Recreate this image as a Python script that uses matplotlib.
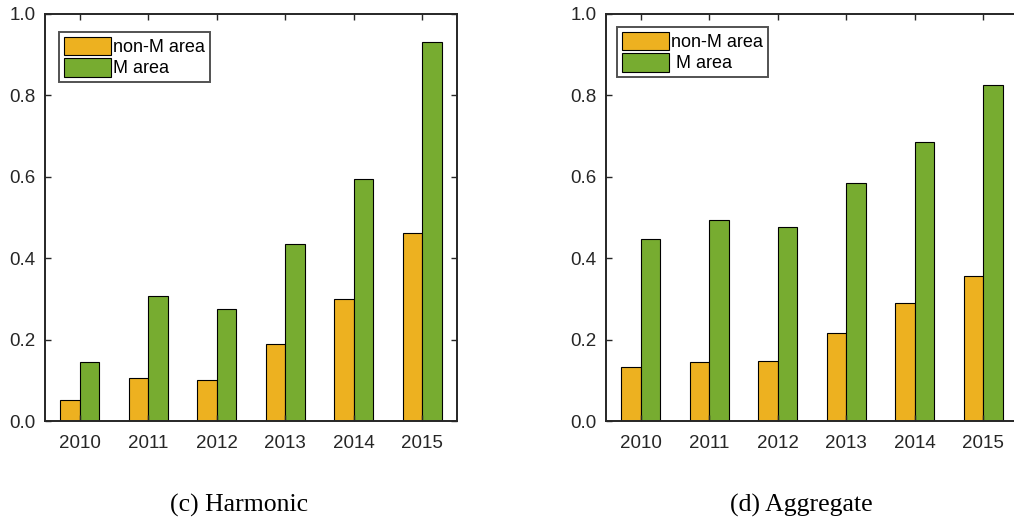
import numpy as np
import matplotlib.pyplot as plt

# values
years = ['2010', '2011', '2012', '2013', '2014', '2015']
harmonic_non_m = [0.052, 0.106, 0.100, 0.190, 0.300, 0.461]
harmonic_m = [0.145, 0.306, 0.274, 0.434, 0.595, 0.930]
aggregate_non_m = [0.133, 0.144, 0.148, 0.216, 0.291, 0.356]
aggregate_m = [0.446, 0.494, 0.476, 0.584, 0.685, 0.826]

orange = '#EDB120'
green = '#77AC30'
dark = '#262626'

plt.rcParams['font.family'] = ['Liberation Sans', 'DejaVu Sans']

fig = plt.figure(figsize=(10.14, 5.20), dpi=100)
W, H = 1014, 520


def panel(left_px, width_px, non_m, m, labels, caption, cap_x, leg_xy):
    # axes box in pixels: top 14, bottom 421
    ax = fig.add_axes([left_px / W, (H - 421) / H, width_px / W, 407 / H])
    x = np.arange(1, len(years) + 1)
    w = 0.285
    ax.bar(x - w / 2, non_m, w, color=orange, edgecolor='black', linewidth=0.8, label=labels[0])
    ax.bar(x + w / 2, m, w, color=green, edgecolor='black', linewidth=0.8, label=labels[1])
    ax.set_xlim(0.49, 0.49 + 6.02 * width_px / 412)
    ax.set_ylim(0, 1.0)
    ax.set_xticks(x)
    ax.set_xticklabels(years)
    ax.set_yticks([0, 0.2, 0.4, 0.6, 0.8, 1.0])
    ax.set_yticklabels(['0.0', '0.2', '0.4', '0.6', '0.8', '1.0'])
    ax.tick_params(direction='in', length=4, width=1, colors=dark, labelsize=13.5,
                   top=True, right=True)
    ax.tick_params(axis='x', pad=10)
    ax.tick_params(axis='y', pad=7)
    for s in ax.spines.values():
        s.set_color(dark)
        s.set_linewidth(1.4)
    # legend anchored at its top-left corner, in pixel coords
    lx = (leg_xy[0] - left_px) / width_px
    ly = (421 - leg_xy[1]) / 407
    leg = ax.legend(loc='upper left', bbox_to_anchor=(lx, ly), fontsize=13,
                    frameon=True, fancybox=False, handlelength=2.65, handleheight=1.2,
                    handletextpad=0.1, borderpad=0.25, labelspacing=0.12, borderaxespad=0.0)
    leg.get_frame().set_edgecolor(dark)
    leg.get_frame().set_linewidth(1.4)
    fig.text(cap_x / W, 1 - 505 / H, caption, ha='center', va='center',
             family=['Liberation Serif', 'DejaVu Serif'], fontsize=18.5, color='black')
    return ax


panel(45, 412, harmonic_non_m, harmonic_m, ['non-M area', 'M area'],
      '(c) Harmonic', 239, (59, 32))
# right panel: its right edge runs past the figure, as in the reference
panel(606, 416, aggregate_non_m, aggregate_m, ['non-M area', ' M area'],
      '(d) Aggregate', 801, (617, 27))

fig.savefig('out.png', dpi=100)
